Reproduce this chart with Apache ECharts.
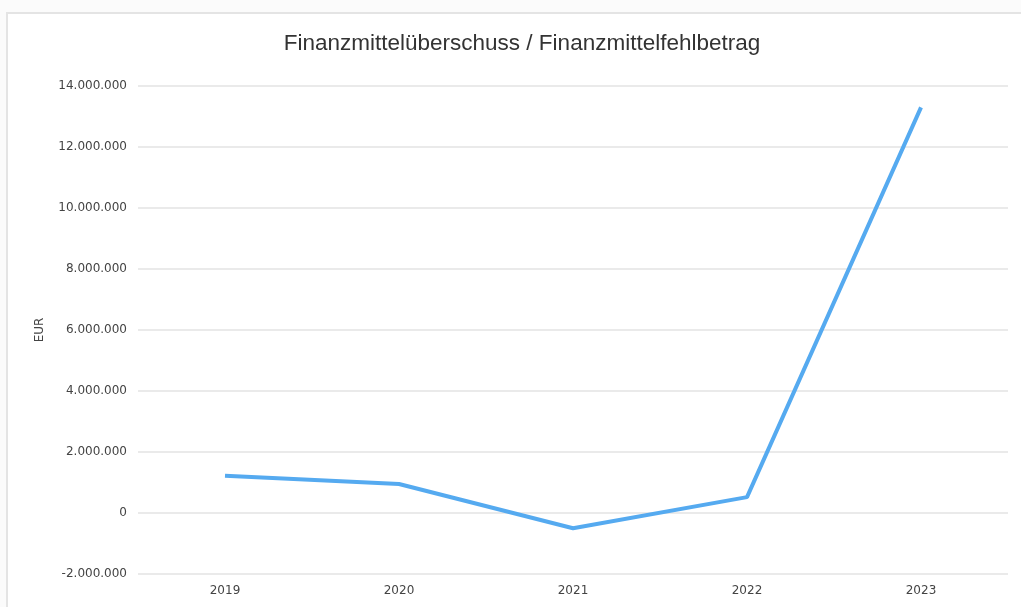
<!DOCTYPE html>
<html>
<head>
<meta charset="utf-8">
<script src="https://cdn.jsdelivr.net/npm/echarts@6/dist/echarts.min.js"></script>
<style>
html,body{margin:0;padding:0;background:#fbfbfb;}
#c{width:1021px;height:607px;}
</style>
</head>
<body>
<div id="c"></div>
<script>
const categories = ['2019', '2020', '2021', '2022', '2023'];
const values = [1220000, 950000, -500000, 520000, 13300000];
const titleText = 'Finanzmittelüberschuss / Finanzmittelfehlbetrag';
const yAxisName = 'EUR';

function fmt(v) {
  const s = Math.abs(v).toString().replace(/\B(?=(\d{3})+(?!\d))/g, '.');
  return (v < 0 ? '-' : '') + s;
}

const labelFont = 'DejaVu Sans, sans-serif';

const chart = echarts.init(document.getElementById('c'));
chart.setOption({
  backgroundColor: '#fbfbfb',
  animation: false,
  graphic: [{
    type: 'rect',
    shape: { x: 7, y: 13, width: 1030, height: 620 },
    style: { fill: '#ffffff', stroke: '#e4e4e4', lineWidth: 2 },
    z: -10, silent: true
  }, {
    type: 'text',
    x: 522, y: 44,
    style: {
      text: titleText,
      textAlign: 'center', textVerticalAlign: 'middle',
      font: 'normal 22.5px "Liberation Sans", Arial, sans-serif',
      fill: '#333'
    },
    silent: true
  }],
  grid: { left: 138, right: 13, top: 86, bottom: 33 },
  xAxis: {
    type: 'category',
    data: categories,
    boundaryGap: true,
    axisLine: { show: false },
    axisTick: { show: false },
    axisLabel: { color: '#444', fontSize: 12, fontFamily: labelFont, margin: 11 }
  },
  yAxis: {
    type: 'value',
    min: -2000000,
    max: 14000000,
    interval: 2000000,
    name: yAxisName,
    nameLocation: 'middle',
    nameGap: 92,
    nameRotate: 90,
    nameTextStyle: { color: '#444', fontSize: 12, fontFamily: labelFont, padding: [0, 0, 0, 0] },
    axisLine: { show: false },
    axisTick: { show: false },
    axisLabel: { color: '#444', fontSize: 12, fontFamily: labelFont, margin: 11, formatter: fmt },
    splitLine: { lineStyle: { color: '#e3e3e3', width: 1.5 } }
  },
  series: [{
    type: 'line',
    data: values,
    symbol: 'none',
    lineStyle: { color: '#55aaf0', width: 4 },
    itemStyle: { color: '#55aaf0' }
  }]
});
</script>
</body>
</html>
